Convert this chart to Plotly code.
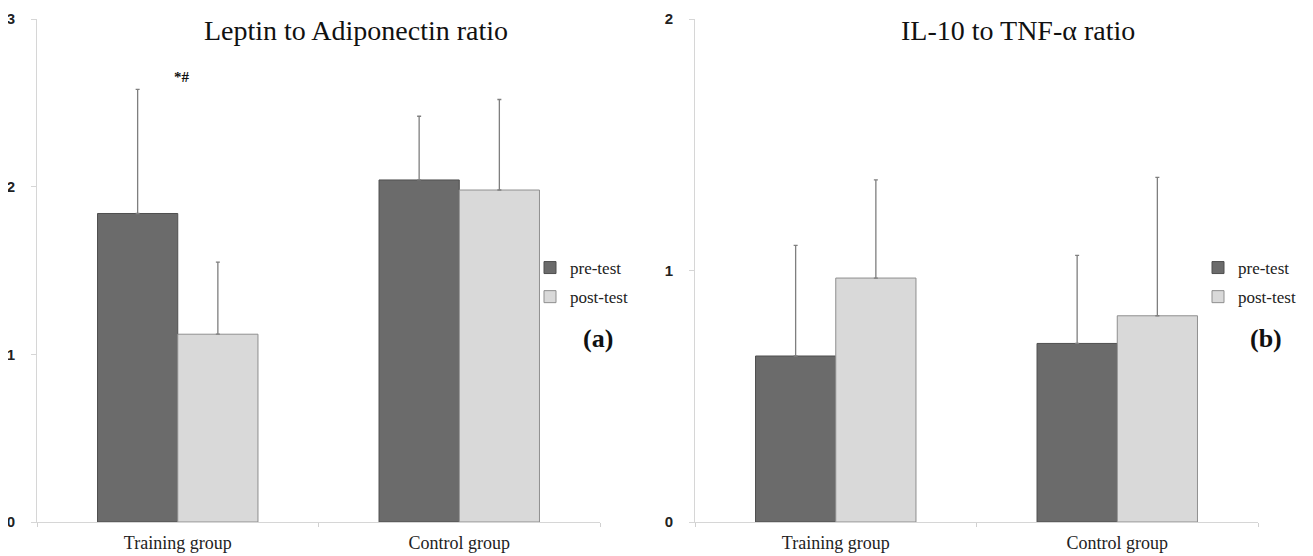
import plotly.graph_objects as go

groups = ["Training group", "Control group"]
series = ["pre-test", "post-test"]

# Leptin to Adiponectin ratio
lep_pre = [1.84, 2.04]
lep_post = [1.12, 1.98]
lep_pre_err = [0.74, 0.38]
lep_post_err = [0.43, 0.54]

# IL-10 to TNF-alpha ratio
il_pre = [0.66, 0.71]
il_post = [0.97, 0.82]
il_pre_err = [0.44, 0.35]
il_post_err = [0.39, 0.55]

colors = ["#6b6b6b", "#d9d9d9"]
edge = ["#4f4f4f", "#8f8f8f"]
serif = "Liberation Serif, Times New Roman, serif"

W = 1305.0
H = 548.0
OFF = 8.0  # page body margin


def px(x):
    return (x - OFF) / W


def py(y):
    return (H - (y - OFF)) / H


fig = go.Figure()


def add(vals, errs, idx, xa, ya, leg):
    fig.add_trace(go.Bar(
        x=[0, 1], y=vals, name=series[idx],
        marker=dict(color=colors[idx], line=dict(color=edge[idx], width=1)),
        error_y=dict(type="data", array=errs, arrayminus=[0, 0], symmetric=False,
                     color="#7f7f7f", thickness=1.3, width=2),
        xaxis=xa, yaxis=ya, legend=leg, legendgroup=leg + series[idx],
    ))


add(lep_pre, lep_pre_err, 0, "x", "y", "legend")
add(lep_post, lep_post_err, 1, "x", "y", "legend")
add(il_pre, il_pre_err, 0, "x2", "y2", "legend2")
add(il_post, il_post_err, 1, "x2", "y2", "legend2")

ydom = [py(522), py(19)]
axis_common = dict(showgrid=False, zeroline=False, showline=True, linecolor="#d6d6d6",
                   linewidth=1)
xcommon = dict(range=[-0.5, 1.5], tickvals=[0, 1], ticktext=groups, ticks="",
               tickfont=dict(family=serif, size=18, color="#222"), ticklabelstandoff=4,
               minor=dict(tickvals=[-0.5, 0.5, 1.5], ticks="outside", ticklen=4,
                          tickcolor="#d0d0d0", tickwidth=1),
               automargin=False, **axis_common)
ycommon = dict(ticks="outside", ticklen=5, tickcolor="#d6d6d6", ticklabelstandoff=13,
               tickfont=dict(family="Liberation Sans, Arial", size=15, color="#222",
                             weight="bold"),
               automargin=False, **axis_common)
legcommon = dict(xanchor="left", yanchor="top", font=dict(family=serif, size=17, color="#222"),
                 itemwidth=30, tracegroupgap=4, bgcolor="rgba(0,0,0,0)", borderwidth=0)

fig.update_layout(
    width=int(W), height=int(H),
    margin=dict(l=0, r=0, t=0, b=0),
    paper_bgcolor="white", plot_bgcolor="white",
    barmode="group", bargap=0.43, bargroupgap=0,
    xaxis=dict(domain=[px(37), px(600)], **xcommon),
    yaxis=dict(domain=ydom, range=[0, 3], tickvals=[0, 1, 2, 3], **ycommon),
    xaxis2=dict(domain=[px(695), px(1258)], anchor="y2", **xcommon),
    yaxis2=dict(domain=ydom, range=[0, 2], tickvals=[0, 1, 2], anchor="x2", **ycommon),
    legend=dict(x=px(530), y=py(250), **legcommon),
    legend2=dict(x=px(1198), y=py(250), **legcommon),
    showlegend=True,
)

annos = [
    dict(text="Leptin to Adiponectin ratio", x=356, y=30, size=28),
    dict(text="IL-10 to TNF-α ratio", x=1018, y=30, size=28),
    dict(text="<b>(a)</b>", x=598, y=338, size=26),
    dict(text="<b>(b)</b>", x=1266, y=338, size=26),
    dict(text="<b>*#</b>", x=182, y=77, size=15),
]
for a in annos:
    fig.add_annotation(text=a["text"], x=px(a["x"]), y=py(a["y"]), xref="paper", yref="paper",
                       showarrow=False, xanchor="center", yanchor="middle",
                       font=dict(family=serif, size=a["size"], color="#111"))

fig.write_html("out.html")
